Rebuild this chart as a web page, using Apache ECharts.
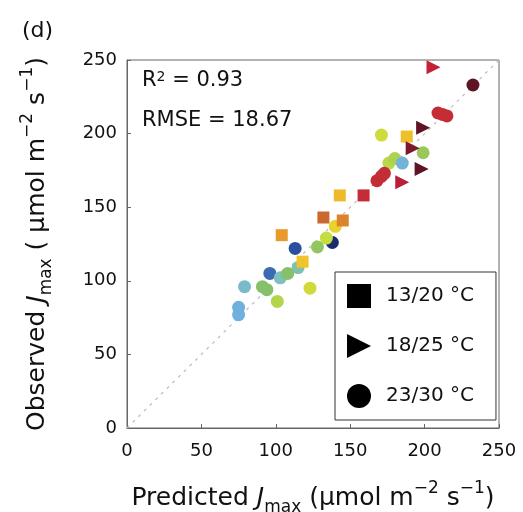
<!DOCTYPE html>
<html>
<head>
<meta charset="utf-8">
<script src="https://cdn.jsdelivr.net/npm/echarts@6/dist/echarts.min.js"></script>
<style>html,body{margin:0;padding:0;background:#fff}#c{width:523px;height:512px}</style>
</head>
<body>
<div id="c"></div>
<script>
// [predicted, observed, colour index 0..1]
const squares1320 = [
  [104,131,0.70],[132,143,0.79],[145,141,0.74],[143,158,0.64],[159,158,0.88],[188,198,0.63],[118,113,0.62]
];
const triangles1825 = [
  [206,245,0.90],[199,204,1.00],[192,190,0.97],[198,176,1.00],[185,167,0.91]
];
const circles2330 = [
  [232.5,233,1.00],[209,214,0.88],[212,213,0.88],[215,212,0.88],
  [171,199,0.52],[199,187,0.43],[176,180,0.48],[180,183,0.46],[185,180,0.22],
  [168,168,0.88],[171,171,0.88],[173,173,0.88],
  [138,126,0.00],[113,122,0.08],[128,123,0.42],[134,129,0.50],[140,137,0.58],
  [115,109,0.32],[96,105,0.12],[103,102,0.30],[108,105,0.40],[91,96,0.40],
  [123,95,0.52],[101,86,0.47],[79,96,0.27],[75,82,0.20],[75,77,0.20],[94,94,0.40]
];
const legendNames = ['13/20 °C','18/25 °C','23/30 °C'];
const axisTicks = [0,50,100,150,200,250];
const oneToOne = [[0,0],[250,250]];
const statsText = ['R{sup|2} = 0.93','RMSE = 18.67'];

const cmap = ['#1b2a6b','#2d5aa8','#6fb0df','#7fc0bf','#86c06a','#c5de3f','#f2cf2a','#e99a2a','#c8632e','#c42038','#5e1424'];
const tri = 'path://M0,0 L10,5 L0,10 Z';
const F = 'DejaVu Sans';
const nameRich = {
  n:{fontSize:25,fontFamily:F,color:'#111',lineHeight:36},
  i:{fontSize:25,fontFamily:F,fontStyle:'italic',color:'#111',lineHeight:36},
  s:{fontSize:17,fontFamily:F,color:'#111',verticalAlign:'bottom',lineHeight:17},
  p:{fontSize:17,fontFamily:F,color:'#111',verticalAlign:'top',lineHeight:17}
};

const chart = echarts.init(document.getElementById('c'));
chart.setOption({
  animation:false,
  backgroundColor:'#fff',
  grid:{left:127,right:24,top:60,bottom:84,containLabel:false,outerBoundsMode:'none',
    show:true,borderColor:'#666',borderWidth:1,backgroundColor:'transparent'},
  xAxis:{type:'value',min:axisTicks[0],max:axisTicks[axisTicks.length-1],interval:50,
    axisLine:{lineStyle:{color:'#666'}},axisTick:{inside:true,length:4,lineStyle:{color:'#666'}},
    splitLine:{show:false},
    axisLabel:{fontFamily:F,fontSize:18,color:'#111',margin:14},
    name:'{n|Predicted }{i|J}{s|max}{n| (μmol m}{p|−2}{n| s}{p|−1}{n|)}',
    nameLocation:'middle',nameGap:52,
    nameTextStyle:{fontFamily:F,color:'#111',rich:nameRich}
  },
  yAxis:{type:'value',min:axisTicks[0],max:axisTicks[axisTicks.length-1],interval:50,
    axisLine:{show:true,lineStyle:{color:'#666'}},axisTick:{show:true,inside:true,length:4,lineStyle:{color:'#666'}},
    splitLine:{show:false},
    axisLabel:{fontFamily:F,fontSize:18,color:'#111',margin:10},
    name:'{n|Observed }{i|J}{s|max}{n| ( μmol m}{p|−2}{n| s}{p|−1}{n|)}',
    nameLocation:'middle',nameGap:72,
    nameTextStyle:{fontFamily:F,color:'#111',rich:nameRich}
  },
  visualMap:{show:false,type:'continuous',min:0,max:1,dimension:2,seriesIndex:[1,2,3],inRange:{color:cmap}},
  legend:{orient:'vertical',left:335,top:272,width:150,
    padding:[12,22,12,12],itemWidth:24,itemHeight:24,itemGap:26,
    borderColor:'#333',borderWidth:1,backgroundColor:'#fff',
    textStyle:{fontFamily:F,fontSize:20,color:'#111',padding:[0,0,0,10]},
    data:[
      {name:legendNames[0],icon:'rect',itemStyle:{color:'#000',opacity:1}},
      {name:legendNames[1],icon:tri,itemStyle:{color:'#000',opacity:1}},
      {name:legendNames[2],icon:'circle',itemStyle:{color:'#000',opacity:1}}
    ]},
  graphic:[
    {type:'text',left:22,top:20,style:{text:'(d)',font:'22px "DejaVu Sans"',fill:'#111'}},
    {type:'text',left:142,top:70,style:{text:statsText[0],font:'21px "DejaVu Sans"',fill:'#111',
      rich:{sup:{fontSize:14,fontFamily:F,verticalAlign:'top',lineHeight:10,fill:'#111'}}}},
    {type:'text',left:142,top:110,style:{text:statsText[1],font:'21px "DejaVu Sans"',fill:'#111'}}
  ],
  series:[
    {type:'line',data:oneToOne,symbol:'none',silent:true,z:1,
      lineStyle:{color:'#bbb',width:1.2,type:[3,5]}},
    {name:legendNames[0],type:'scatter',data:squares1320,symbol:'rect',symbolSize:12,z:3,itemStyle:{color:'#000',opacity:1}},
    {name:legendNames[1],type:'scatter',data:triangles1825,symbol:tri,symbolSize:14,z:3,itemStyle:{color:'#000',opacity:1}},
    {name:legendNames[2],type:'scatter',data:circles2330,symbol:'circle',symbolSize:13,z:2,itemStyle:{color:'#000',opacity:1}}
  ]
});
</script>
</body>
</html>
